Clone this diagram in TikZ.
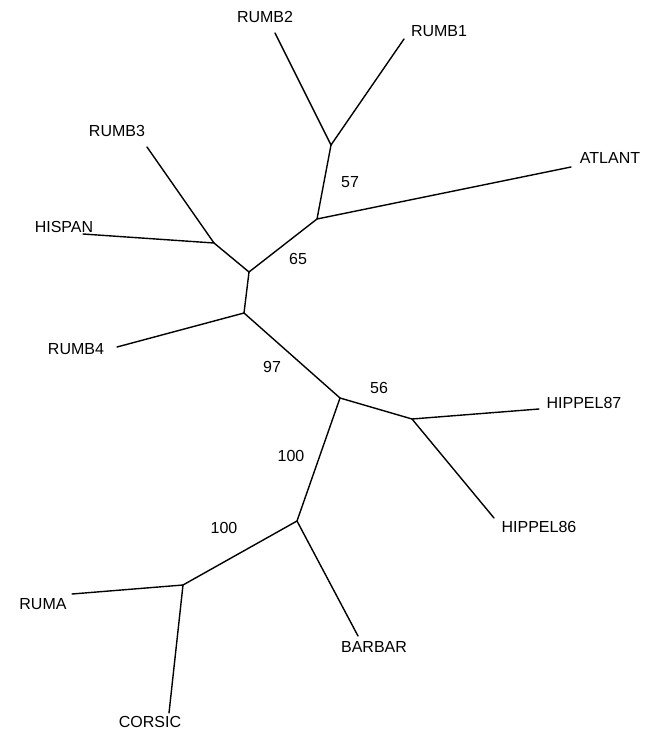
\documentclass[tikz,border=0pt]{standalone}
\usepackage{fontspec}
\setmainfont{Liberation Sans}
\begin{document}
\begin{tikzpicture}[x=1pt,y=-1pt,
  br/.style={line width=1.4pt,line cap=round},
  lab/.style={inner sep=0pt,font=\fontsize{16}{18}\selectfont},
  bs/.style={inner sep=0pt,font=\fontsize{16}{18}\selectfont}]
\useasboundingbox (0,0) rectangle (653,730);
% internal nodes
\coordinate (A) at (331,145);
\coordinate (B) at (317,219);
\coordinate (C) at (214,243);
\coordinate (D) at (249,272);
\coordinate (E) at (244,313);
\coordinate (F) at (340,398);
\coordinate (G) at (412,419);
\coordinate (H) at (297,521);
\coordinate (I) at (183,585);
% tips
\coordinate (tRUMB2) at (275,33);
\coordinate (tRUMB1) at (404,39);
\coordinate (tATLANT) at (571,167);
\coordinate (tRUMB3) at (147,147);
\coordinate (tHISPAN) at (83,234);
\coordinate (tRUMB4) at (117,347);
\coordinate (tHIPPEL87) at (539,409);
\coordinate (tHIPPEL86) at (494,518);
\coordinate (tBARBAR) at (358,636);
\coordinate (tRUMA) at (72,594);
\coordinate (tCORSIC) at (169,713);
% labels
\node[lab] (RUMB2) at (265,17) {RUMB2};
\node[lab] (RUMB1) at (439,31) {RUMB1};
\node[lab] (ATLANT) at (610,158) {ATLANT};
\node[lab] (RUMB3) at (117,131) {RUMB3};
\node[lab] (HISPAN) at (64,227) {HISPAN};
\node[lab] (RUMB4) at (76,349) {RUMB4};
\node[lab] (HIPPEL87) at (584,403) {HIPPEL87};
\node[lab] (HIPPEL86) at (539,527) {HIPPEL86};
\node[lab] (BARBAR) at (374,647) {BARBAR};
\node[lab] (RUMA) at (43,604) {RUMA};
\node[lab] (CORSIC) at (150,721.5) {CORSIC};
% bootstrap values
\node[bs] (b57) at (350,182) {57};
\node[bs] (b65) at (298,259) {65};
\node[bs] (b97) at (272,367) {97};
\node[bs] (b56) at (379,388) {56};
\node[bs] (b100a) at (291,456) {100};
\node[bs] (b100b) at (224,528) {100};
% branches
\draw[br] (tRUMB2) -- (A) -- (tRUMB1);
\draw[br] (A) -- (B) -- (tATLANT);
\draw[br] (B) -- (D);
\draw[br] (tRUMB3) -- (C) -- (tHISPAN);
\draw[br] (C) -- (D) -- (E) -- (tRUMB4);
\draw[br] (E) -- (F) -- (G) -- (tHIPPEL87);
\draw[br] (G) -- (tHIPPEL86);
\draw[br] (F) -- (H) -- (tBARBAR);
\draw[br] (H) -- (I) -- (tRUMA);
\draw[br] (I) -- (tCORSIC);
\end{tikzpicture}
\end{document}
